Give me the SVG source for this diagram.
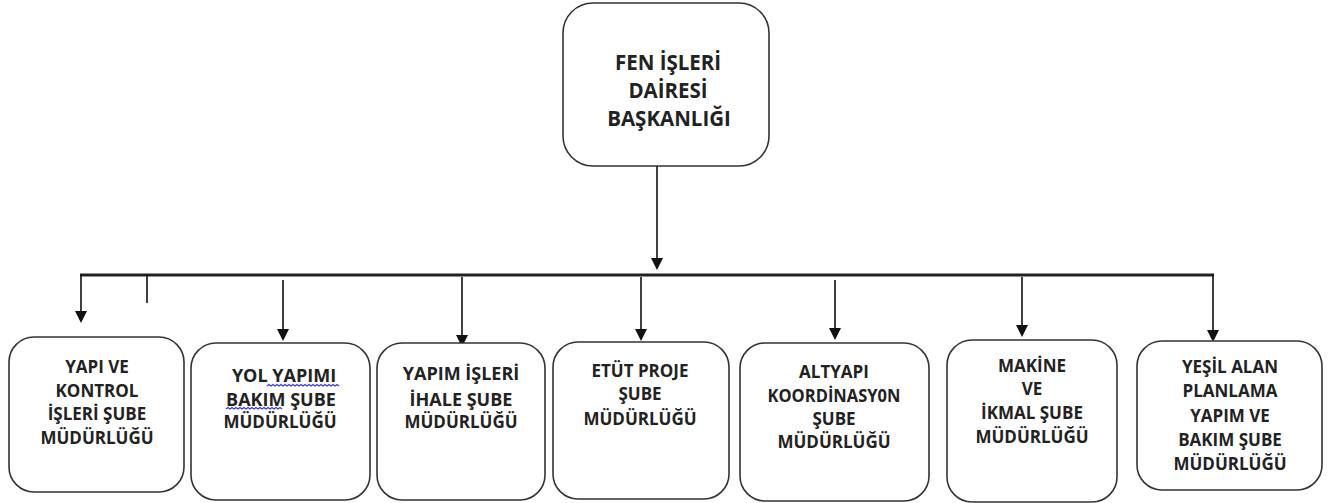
<svg xmlns="http://www.w3.org/2000/svg" width="1335" height="503" viewBox="0 0 1335 503">
<style>
.box{fill:#fff;stroke:#333;stroke-width:1.6}
.t{font-family:"Open Sans","Liberation Sans",sans-serif;font-weight:bold;font-size:17px;fill:#222;text-anchor:middle}
.big{font-size:18px}
.top{font-size:20.5px}
.ln{stroke:#111;stroke-width:1.6;fill:none}
.bar{stroke:#222;stroke-width:3.2;fill:none}
.sq{stroke:#3a3af0;stroke-width:1.2;fill:none}
</style>
<defs>
<marker id="ah" markerUnits="userSpaceOnUse" markerWidth="13" markerHeight="13" refX="10" refY="6" orient="auto">
<path d="M0,0 L12,6 L0,12 z" fill="#111"/>
</marker>
</defs>
<g id="connectors">
<line class="ln" x1="657" y1="166" x2="657" y2="268" marker-end="url(#ah)"/>
<line class="bar" x1="80" y1="275" x2="1214" y2="275"/>
<line class="ln" x1="81" y1="275" x2="81" y2="321" marker-end="url(#ah)"/>
<line class="ln" x1="147" y1="275" x2="147" y2="303"/>
<line class="ln" x1="283" y1="280" x2="283" y2="339" marker-end="url(#ah)"/>
<line class="ln" x1="462" y1="277" x2="462" y2="345" marker-end="url(#ah)"/>
<line class="ln" x1="641" y1="277" x2="641" y2="339" marker-end="url(#ah)"/>
<line class="ln" x1="835" y1="280" x2="835" y2="338" marker-end="url(#ah)"/>
<line class="ln" x1="1022" y1="277" x2="1022" y2="335" marker-end="url(#ah)"/>
<line class="ln" x1="1213" y1="275" x2="1213" y2="340" marker-end="url(#ah)"/>
</g>
<g id="n0">
<rect class="box" x="563" y="3" width="206" height="163" rx="30"/>
<text class="t top" x="668" y="70">FEN İŞLERİ</text>
<text class="t top" x="668" y="98">DAİRESİ</text>
<text class="t top" x="669" y="126">BAŞKANLIĞI</text>
</g>
<g id="n1">
<rect class="box" x="9" y="337" width="175" height="155" rx="25"/>
<text class="t" x="97" y="373">YAPI VE</text>
<text class="t" x="97" y="397">KONTROL</text>
<text class="t" x="97" y="420">İŞLERİ ŞUBE</text>
<text class="t" x="97" y="444">MÜDÜRLÜĞÜ</text>
</g>
<g id="n2">
<rect class="box" x="191" y="343" width="179" height="157" rx="25"/>
<text class="t big" x="284" y="382">YOL YAPIMI</text>
<text class="t big" x="281" y="406">BAKIM ŞUBE</text>
<text class="t" x="280" y="428">MÜDÜRLÜĞÜ</text>
<path class="sq" d="M267,386 l2,-1.5 2,1.5 2,-1.5 2,1.5 2,-1.5 2,1.5 2,-1.5 2,1.5 2,-1.5 2,1.5 2,-1.5 2,1.5 2,-1.5 2,1.5 2,-1.5 2,1.5 2,-1.5 2,1.5 2,-1.5 2,1.5 2,-1.5 2,1.5 2,-1.5 2,1.5 2,-1.5 2,1.5 2,-1.5 2,1.5 2,-1.5 2,1.5 2,-1.5 2,1.5 2,-1.5 2,1.5 2,-1.5 2,1.5"/>
<path class="sq" d="M226,409 l2,-1.5 2,1.5 2,-1.5 2,1.5 2,-1.5 2,1.5 2,-1.5 2,1.5 2,-1.5 2,1.5 2,-1.5 2,1.5 2,-1.5 2,1.5 2,-1.5 2,1.5 2,-1.5 2,1.5 2,-1.5 2,1.5 2,-1.5 2,1.5 2,-1.5 2,1.5 2,-1.5 2,1.5 2,-1.5 2,1.5"/>
</g>
<g id="n3">
<rect class="box" x="377" y="343" width="168" height="157" rx="25"/>
<text class="t big" x="461" y="380">YAPIM İŞLERİ</text>
<text class="t big" x="461" y="406">İHALE ŞUBE</text>
<text class="t" x="461" y="428">MÜDÜRLÜĞÜ</text>
</g>
<g id="n4">
<rect class="box" x="553" y="342" width="176" height="157" rx="25"/>
<text class="t" x="640" y="377">ETÜT PROJE</text>
<text class="t" x="640" y="400">ŞUBE</text>
<text class="t" x="640" y="425">MÜDÜRLÜĞÜ</text>
</g>
<g id="n5">
<rect class="box" x="740" y="343" width="189" height="158" rx="25"/>
<text class="t" x="834" y="378">ALTYAPI</text>
<text class="t" x="834" y="402" textLength="133" lengthAdjust="spacingAndGlyphs">KOORDİNASY0N</text>
<text class="t" x="834" y="425">ŞUBE</text>
<text class="t" x="834" y="448">MÜDÜRLÜĞÜ</text>
</g>
<g id="n6">
<rect class="box" x="947" y="340" width="170" height="162" rx="25"/>
<text class="t" x="1032" y="372">MAKİNE</text>
<text class="t" x="1032" y="395">VE</text>
<text class="t" x="1032" y="419">İKMAL ŞUBE</text>
<text class="t" x="1032" y="443">MÜDÜRLÜĞÜ</text>
</g>
<g id="n7">
<rect class="box" x="1137" y="341" width="185" height="149" rx="25"/>
<text class="t" x="1230" y="373">YEŞİL ALAN</text>
<text class="t" x="1230" y="397">PLANLAMA</text>
<text class="t" x="1230" y="422">YAPIM VE</text>
<text class="t" x="1230" y="446">BAKIM ŞUBE</text>
<text class="t" x="1230" y="470">MÜDÜRLÜĞÜ</text>
</g>
</svg>
